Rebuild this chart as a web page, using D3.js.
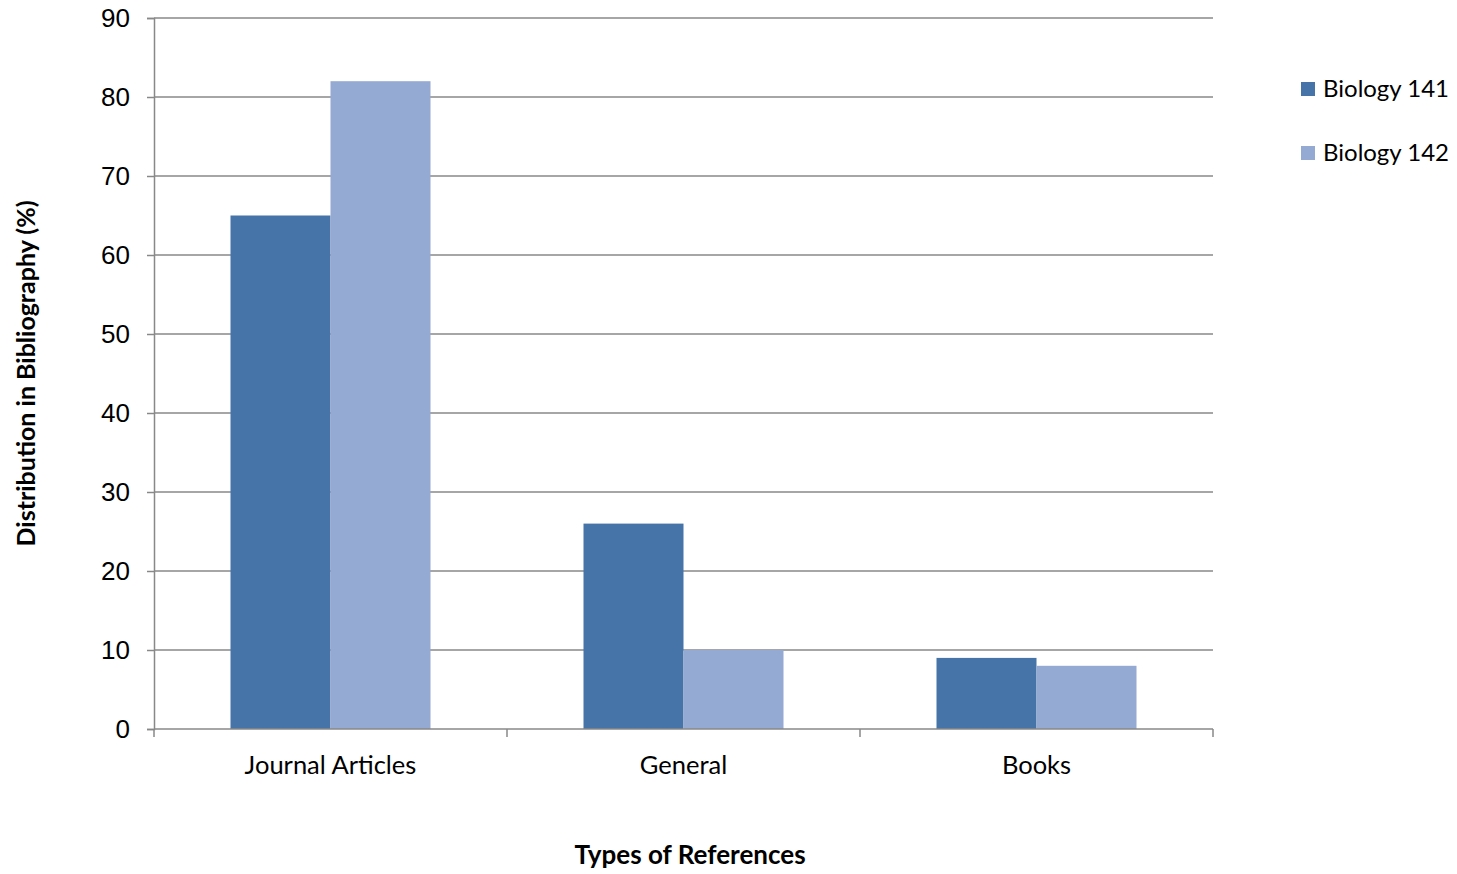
<!DOCTYPE html>
<html>
<head>
<meta charset="UTF-8">
<title>Types of References</title>
<style>
  body { margin: 0; background: #fff; }
  svg { display: block; font-family: Lato, "Open Sans", sans-serif; }
  .tick text { font-size: 26px; fill: #000; }
</style>
</head>
<body>
<div id="chart"></div>
<script src="https://d3js.org/d3.v7.min.js"></script>
<script>
const categories = ["Journal Articles", "General", "Books"];
const seriesNames = ["Biology 141", "Biology 142"];
const bio141 = [65, 26, 9];
const bio142 = [82, 10, 8];
const yTicks = [0, 10, 20, 30, 40, 50, 60, 70, 80, 90];
const colors = ["#4674A8", "#95AAD2"];

const width = 1457, height = 874;
const plotL = 154, plotR = 1213, plotT = 18, plotB = 729;

const svg = d3.select("#chart").append("svg")
  .attr("width", width).attr("height", height);

const x = d3.scaleBand().domain(categories).range([plotL, plotR]);
const inner = d3.scaleBand().domain(seriesNames)
  .range([0, x.bandwidth()]).paddingInner(0).paddingOuter(0.765);
const y = d3.scaleLinear().domain([0, 90]).range([plotB, plotT]);

// gridlines
svg.append("g")
  .selectAll("line").data(yTicks.filter(d => d > 0)).join("line")
  .attr("x1", plotL).attr("x2", plotR)
  .attr("y1", d => y(d)).attr("y2", d => y(d))
  .attr("stroke", "#888").attr("stroke-width", 1.5);

// bars
const rows = categories.map((c, i) => ({cat: c, vals: [bio141[i], bio142[i]]}));
svg.append("g").selectAll("g").data(rows).join("g")
  .attr("transform", d => `translate(${x(d.cat)},0)`)
  .selectAll("rect").data(d => d.vals.map((v, j) => ({name: seriesNames[j], v, j})))
  .join("rect")
  .attr("x", d => inner(d.name))
  .attr("width", inner.bandwidth())
  .attr("y", d => y(d.v))
  .attr("height", d => y(0) - y(d.v))
  .attr("fill", d => colors[d.j]);

// y axis
const yAxis = svg.append("g")
  .attr("transform", `translate(${plotL},0)`)
  .call(d3.axisLeft(y).tickValues(yTicks).tickSize(7).tickPadding(17));
yAxis.selectAll("line, path").attr("stroke", "#888").attr("stroke-width", 1.5);

// x axis
const xEdges = d3.scaleLinear().domain([0, categories.length]).range([plotL, plotR]);
const xAxisG = svg.append("g").attr("transform", `translate(0,${plotB})`);
xAxisG.append("line").attr("x1", plotL).attr("x2", plotR)
  .attr("stroke", "#888").attr("stroke-width", 1.5);
xAxisG.selectAll(".edge").data(d3.range(categories.length + 1)).join("line")
  .attr("class", "edge")
  .attr("x1", d => xEdges(d)).attr("x2", d => xEdges(d))
  .attr("y1", 0).attr("y2", 8)
  .attr("stroke", "#888").attr("stroke-width", 1.5);
xAxisG.selectAll("text").data(categories).join("text")
  .attr("x", d => x(d) + x.bandwidth() / 2)
  .attr("y", 45)
  .attr("text-anchor", "middle")
  .attr("font-size", 25.5)
  .text(d => d);

// axis titles
svg.append("text")
  .attr("x", 690).attr("y", 864)
  .attr("text-anchor", "middle")
  .attr("font-size", 26).attr("font-weight", "bold")
  .text("Types of References");

svg.append("text")
  .attr("transform", `translate(35,${(plotT + plotB) / 2}) rotate(-90)`)
  .attr("text-anchor", "middle")
  .attr("font-size", 25).attr("font-weight", "bold")
  .text("Distribution in Bibliography (%)");

// legend
const legend = svg.append("g").selectAll("g").data(seriesNames).join("g")
  .attr("transform", (d, i) => `translate(1301,${89 + i * 64})`);
legend.append("rect").attr("x", 0).attr("y", -7).attr("width", 14).attr("height", 14)
  .attr("fill", (d, i) => colors[i]);
legend.append("text").attr("x", 22).attr("y", 8)
  .attr("font-size", 24).text(d => d);
</script>
</body>
</html>
